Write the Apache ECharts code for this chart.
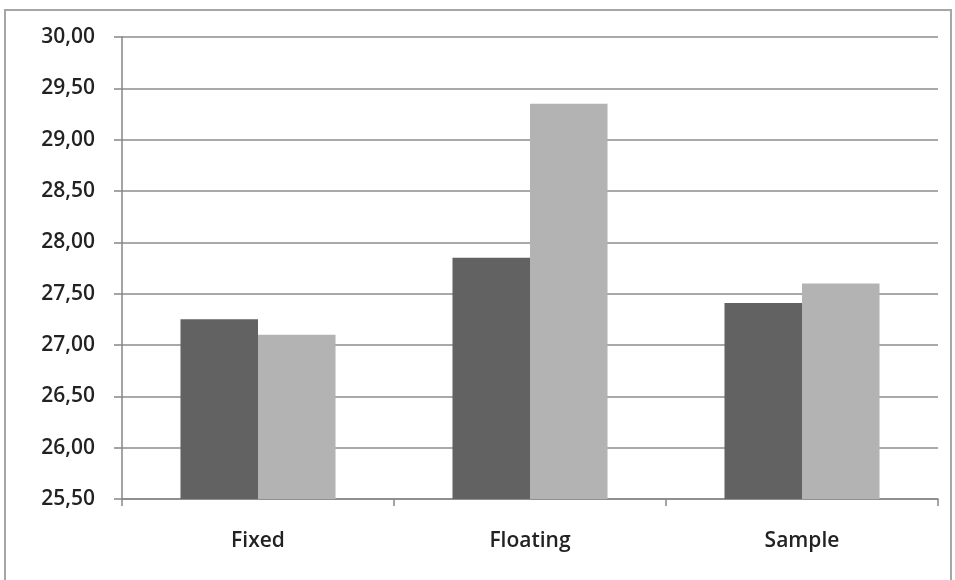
<!DOCTYPE html>
<html>
<head>
<meta charset="utf-8">
<script src="https://cdn.jsdelivr.net/npm/echarts@6/dist/echarts.min.js"></script>
<style>html,body{margin:0;padding:0;background:#fff;}#c{width:955px;height:580px;}</style>
</head>
<body>
<div id="c"></div>
<script>
const categories = ['Fixed', 'Floating', 'Sample'];
const seriesA = [27.25, 27.85, 27.41];
const seriesB = [27.10, 29.35, 27.60];
const yMin = 25.5, yMax = 30, yStep = 0.5;

const chart = echarts.init(document.getElementById('c'));
const font = '"Open Sans", "Liberation Sans", sans-serif';
chart.setOption({
  animation: false,
  backgroundColor: '#fff',
  graphic: [{
    type: 'rect', silent: true,
    shape: {x: 5, y: 10, width: 946, height: 600},
    style: {fill: 'none', stroke: '#a6a6a6', lineWidth: 2}
  }],
  grid: {left: 122, right: 17, top: 37, bottom: 81},
  xAxis: {
    type: 'category',
    data: categories,
    axisLine: {lineStyle: {color: '#868686', width: 1.5}},
    axisTick: {show: true, length: 7, lineStyle: {color: '#868686', width: 1.5}},
    axisLabel: {color: '#222', fontFamily: font, fontSize: 21, fontWeight: 600, margin: 32}
  },
  yAxis: {
    type: 'value',
    min: yMin, max: yMax, interval: yStep,
    axisLine: {show: true, lineStyle: {color: '#868686', width: 1.5}},
    axisTick: {show: true, length: 8, lineStyle: {color: '#868686', width: 1.5}},
    splitLine: {lineStyle: {color: '#8c8c8c', width: 1.5}},
    axisLabel: {
      color: '#222', fontFamily: font, fontSize: 21, fontWeight: 600, margin: 27,
      formatter: v => v.toFixed(2).replace('.', ',')
    }
  },
  series: [
    {type: 'bar', data: seriesA, barGap: '0%', barCategoryGap: '43%',
     itemStyle: {color: '#626262'}},
    {type: 'bar', data: seriesB, barGap: '0%', barCategoryGap: '43%',
     itemStyle: {color: '#b3b3b3'}}
  ]
});
</script>
</body>
</html>
